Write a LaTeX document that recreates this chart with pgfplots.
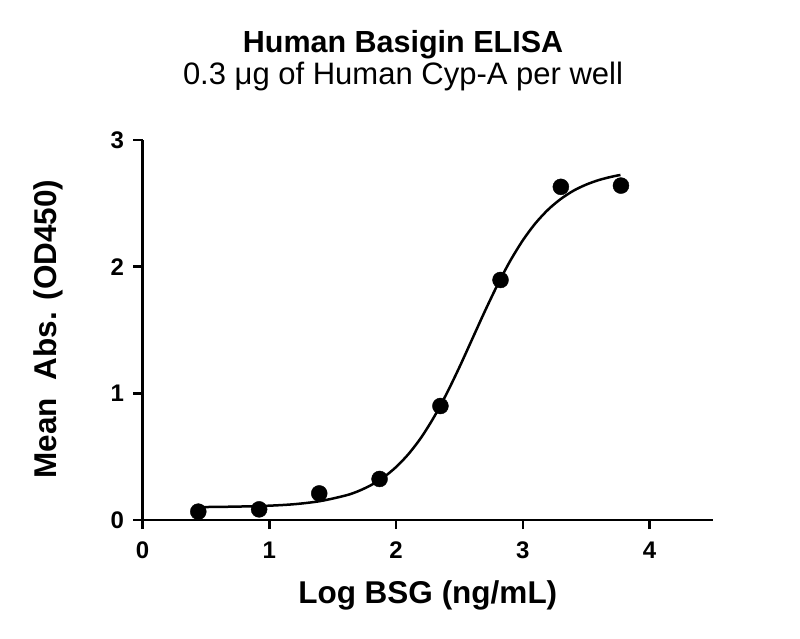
\documentclass[border=0pt]{standalone}
\usepackage{pgfplots}
\pgfplotsset{compat=1.18}
\usepackage{fontspec}
\setmainfont{Liberation Sans}
\begin{document}
\begin{tikzpicture}[x=1pt,y=1pt]
\begin{axis}[
  at={(142.5pt,118pt)}, anchor=south west,
  scale only axis, width=570.5pt, height=380pt,
  xmin=0, xmax=4.5, ymin=0, ymax=3,
  axis x line*=bottom, axis y line*=left,
  axis line style={line width=2.5pt, black},
  xtick={0,1,2,3,4}, ytick={0,1,2,3},
  xticklabels={0,1,2,3,4}, yticklabels={0,1,2,3},
  tick align=outside, major tick length=9pt,
  tick style={line width=2.5pt, black},
  /pgf/number format/assume math mode=true,
  xticklabel style={font=\fontsize{24}{24}\selectfont\bfseries, yshift=-9pt},
  yticklabel style={font=\fontsize{24}{24}\selectfont\bfseries, xshift=-6pt},
  xlabel={Log BSG (ng/mL)},
  ylabel={Mean\ \ Abs. (OD450)},
  xlabel style={at={(axis description cs:0.5,-0.221)}, anchor=base, font=\fontsize{31.5}{31.5}\selectfont\bfseries},
  ylabel style={at={(axis description cs:-0.1499,0.5026)}, anchor=base, font=\fontsize{31.5}{31.5}\selectfont\bfseries},
  clip=false,
]
\addplot[black, line width=2.5pt, smooth] coordinates {
(0.44,0.102) (0.6,0.1035) (0.8,0.107) (1.0,0.113) (1.2,0.125) (1.4,0.149)
(1.6,0.193) (1.7,0.227) (1.8,0.274) (1.9,0.336) (2.0,0.418) (2.1,0.523)
(2.2,0.654) (2.3,0.814) (2.4,1.000) (2.5,1.207) (2.6,1.427) (2.7,1.647)
(2.8,1.856) (2.9,2.045) (3.0,2.208) (3.1,2.343) (3.2,2.451) (3.3,2.535)
(3.4,2.600) (3.5,2.648) (3.6,2.684) (3.7,2.710) (3.77,2.724)
};
\addplot[only marks, mark=*, mark size=8pt, black] coordinates {
(0.44,0.066) (0.92,0.084) (1.394,0.21) (1.87,0.324)
(2.35,0.90) (2.824,1.895) (3.30,2.63) (3.774,2.64)
};
\end{axis}
\node[anchor=base, font=\fontsize{30.5}{30.5}\selectfont\bfseries] at (403pt,585pt) {Human Basigin ELISA};
\node[anchor=base, font=\fontsize{31}{31}\selectfont] at (403pt,553pt) {0.3 μg of Human Cyp-A per well};
\pgfresetboundingbox
\path (0,0) rectangle (800pt,638pt);
\end{tikzpicture}
\end{document}
